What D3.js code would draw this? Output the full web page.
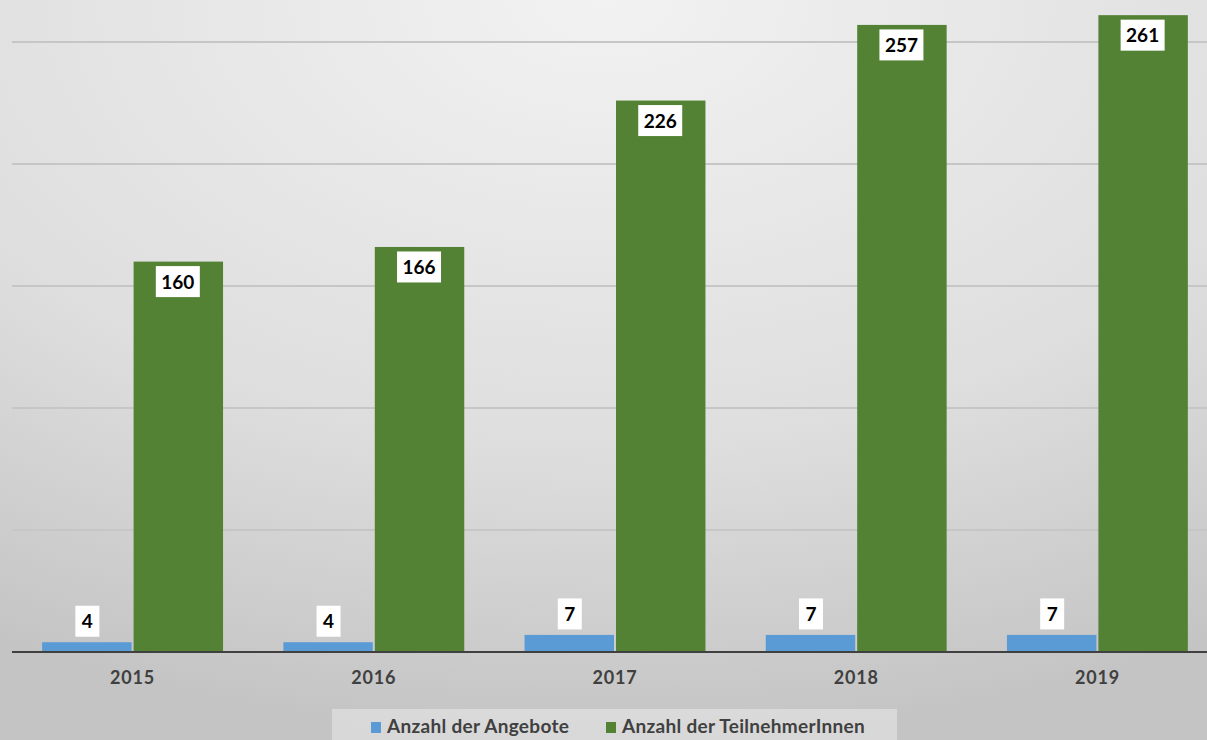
<!DOCTYPE html>
<html>
<head>
<meta charset="utf-8">
<script src="https://cdn.jsdelivr.net/npm/d3@7"></script>
<style>
  body { margin: 0; overflow: hidden; }
  svg { display: block; }
</style>
</head>
<body>
<script>
// chart data
var years = ["2015", "2016", "2017", "2018", "2019"];
var angebote = [4, 4, 7, 7, 7];
var teilnehmer = [160, 166, 226, 257, 261];
var seriesNames = ["Anzahl der Angebote", "Anzahl der TeilnehmerInnen"];
var gridTicks = [50, 100, 150, 200, 250];

var width = 1207, height = 740;
var colors = ["#5b9bd5", "#548235"];
var fontFam = "Lato, 'Open Sans', sans-serif";

var svg = d3.select("body").append("svg")
    .attr("width", width)
    .attr("height", height);

// background gradient
var defs = svg.append("defs");
var grad = defs.append("radialGradient")
    .attr("id", "bg")
    .attr("cx", "50%").attr("cy", "0%")
    .attr("r", "100%")
    .attr("gradientUnits", "objectBoundingBox");
grad.append("stop").attr("offset", "0%").attr("stop-color", "#f2f2f2");
grad.append("stop").attr("offset", "60%").attr("stop-color", "#dedede");
grad.append("stop").attr("offset", "100%").attr("stop-color", "#c4c4c4");
svg.append("rect").attr("width", width).attr("height", height).attr("fill", "url(#bg)");

// scales
var x0 = d3.scaleBand()
    .domain(years)
    .range([12, 1218])
    .paddingInner(0.25)
    .paddingOuter(0.125);
var x1 = d3.scaleBand()
    .domain([0, 1])
    .range([0, x0.bandwidth()]);
var y = d3.scaleLinear()
    .domain([0, 250])
    .range([652, 42]);

// gridlines
svg.append("g").selectAll("line")
    .data(gridTicks)
    .join("line")
    .attr("x1", 12).attr("x2", width)
    .attr("y1", d => y(d)).attr("y2", d => y(d))
    .attr("stroke", "#c6c6c6")
    .attr("stroke-width", 2);

// bars
var groups = svg.append("g").selectAll("g")
    .data(years)
    .join("g")
    .attr("transform", d => "translate(" + x0(d) + ",0)");

var series = [angebote, teilnehmer];
groups.selectAll("rect")
    .data((d, i) => series.map((s, k) => ({k: k, v: s[i]})))
    .join("rect")
    .attr("x", d => x1(d.k) + (d.k == 0 ? 0 : 1))
    .attr("width", x1.bandwidth() - 1)
    .attr("y", d => y(d.v))
    .attr("height", d => y(0) - y(d.v))
    .attr("fill", d => colors[d.k]);

// value labels
groups.each(function(d, i) {
  var g = d3.select(this);
  series.forEach(function(s, k) {
    var v = s[i];
    var cx = x1(k) + x1.bandwidth() / 2;
    var cy = k == 0 ? y(v) - 21 : y(v) + 20;
    var txt = String(v);
    var bw = txt.length * 10 + 14;
    g.append("rect")
        .attr("x", cx - bw / 2)
        .attr("y", cy - 15.5)
        .attr("width", bw)
        .attr("height", 31)
        .attr("fill", "#ffffff");
    g.append("text")
        .attr("x", cx)
        .attr("y", cy + 7)
        .attr("text-anchor", "middle")
        .attr("font-family", fontFam)
        .attr("font-weight", "bold")
        .attr("font-size", 19)
        .attr("fill", "#000")
        .text(txt);
  });
});

// baseline
svg.append("line")
    .attr("x1", 12).attr("x2", width)
    .attr("y1", y(0)).attr("y2", y(0))
    .attr("stroke", "#404040")
    .attr("stroke-width", 2);

// x axis labels
var xAxis = svg.append("g")
    .attr("transform", "translate(0," + y(0) + ")")
    .call(d3.axisBottom(x0).tickSize(0).tickPadding(19));
xAxis.select(".domain").remove();
xAxis.selectAll("text")
    .attr("font-family", fontFam)
    .attr("font-weight", "bold")
    .attr("font-size", 18)
    .attr("letter-spacing", 0.8)
    .attr("fill", "#404040");

// legend
svg.append("rect")
    .attr("x", 332).attr("y", 709)
    .attr("width", 565).attr("height", 31)
    .attr("fill", "#ffffff")
    .attr("fill-opacity", 0.35);

var legendX = [371, 606];
var legend = svg.append("g").selectAll("g")
    .data(seriesNames)
    .join("g")
    .attr("transform", (d, i) => "translate(" + legendX[i] + ",722)");
legend.append("rect")
    .attr("width", 10).attr("height", 11)
    .attr("fill", (d, i) => colors[i]);
legend.append("text")
    .attr("x", 16).attr("y", 11)
    .attr("font-family", fontFam)
    .attr("font-weight", "bold")
    .attr("font-size", 19)
    .attr("letter-spacing", 0.3)
    .attr("fill", "#404040")
    .text(d => d);
</script>
</body>
</html>
